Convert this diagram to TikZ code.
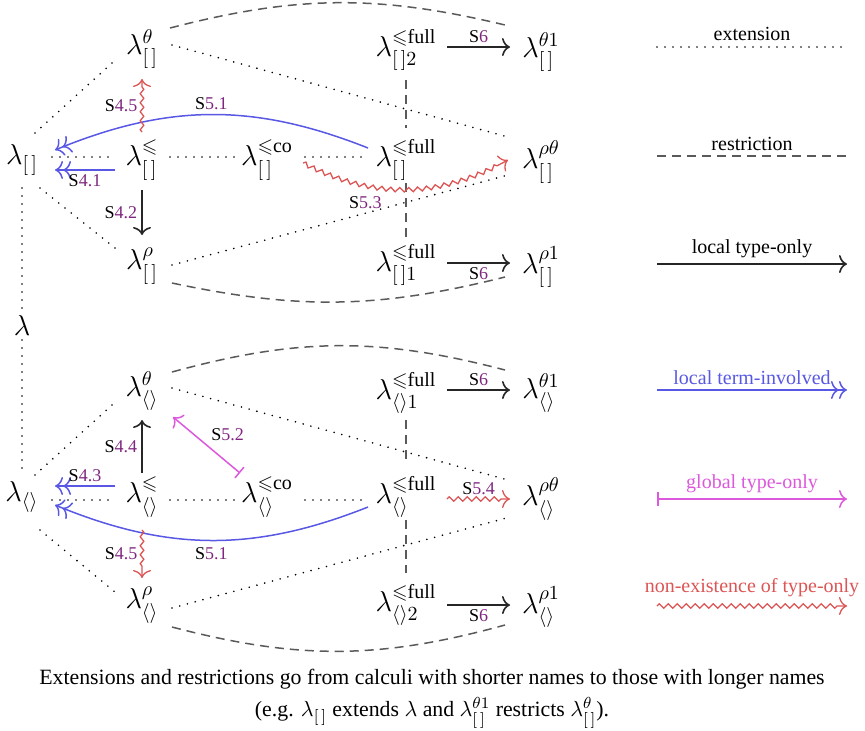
\documentclass[tikz,border=0pt]{standalone}
\usepackage{amsmath,amssymb}
\usepackage{fontspec}
\setmainfont{Liberation Serif}
\usetikzlibrary{arrows.meta,decorations.pathmorphing,calc}
\definecolor{cblue}{RGB}{88,88,228}
\definecolor{cmag}{RGB}{220,88,220}
\definecolor{cred}{RGB}{220,84,84}
\definecolor{cpur}{RGB}{128,38,128}
\definecolor{cgray}{RGB}{90,90,90}
\newcommand{\slab}[1]{S\textcolor{cpur}{#1}}
\newcommand{\bx}{[\,]}
\newcommand{\ax}{\langle\rangle}
\begin{document}
\begin{tikzpicture}[x=0.5pt,y=-0.5pt,
  cal/.style={font=\Large, inner sep=0pt},
  lab/.style={font=\small, inner sep=2pt},
  legt/.style={font=\normalsize, inner sep=2.5pt},
  ext/.style={line width=0.9pt, dash pattern=on 0pt off 4pt, line cap=round},
  restr/.style={draw=cgray, line width=0.75pt, dash pattern=on 4.5pt off 3pt},
  >={Computer Modern Rightarrow[length=4pt,width=9pt]},
  ltype/.style={draw=black!85, line width=0.8pt, ->},
  lterm/.style={draw=cblue, line width=0.75pt, ->>},
  gtype/.style={draw=cmag, line width=0.75pt, {Bar[width=7pt]}->},
  nonex/.style={draw=cred, line width=0.65pt, ->, decorate, decoration={zigzag, segment length=4.5pt, amplitude=1.1pt, post length=4pt}},
]
\useasboundingbox (0,0) rectangle (865,730);
% ---- top block nodes
\node[cal] (thT) at (142,49) {$\lambda^{\theta}_{\bx}$};
\node[cal] (f2T) at (406,50) {$\lambda^{\leqslant\mathrm{full}}_{\bx 2}$};
\node[cal] (th1T) at (541,52) {$\lambda^{\theta 1}_{\bx}$};
\node[cal] (lT) at (22,160) {$\lambda_{\bx}$};
\node[cal] (leT) at (142,160) {$\lambda^{\leqslant}_{\bx}$};
\node[cal] (coT) at (267,160) {$\lambda^{\leqslant\mathrm{co}}_{\bx}$};
\node[cal] (fT) at (406,160) {$\lambda^{\leqslant\mathrm{full}}_{\bx}$};
\node[cal] (rtT) at (541,162) {$\lambda^{\rho\theta}_{\bx}$};
\node[cal] (rT) at (142,266) {$\lambda^{\rho}_{\bx}$};
\node[cal] (f1T) at (406,265) {$\lambda^{\leqslant\mathrm{full}}_{\bx 1}$};
\node[cal] (r1T) at (541,267) {$\lambda^{\rho 1}_{\bx}$};
\node[cal] (lam) at (22,325) {$\lambda$};
% ---- bottom block nodes
\node[cal] (thB) at (142,391) {$\lambda^{\theta}_{\ax}$};
\node[cal] (f1B) at (406,393) {$\lambda^{\leqslant\mathrm{full}}_{\ax 1}$};
\node[cal] (th1B) at (541,393) {$\lambda^{\theta 1}_{\ax}$};
\node[cal] (lB) at (22,497) {$\lambda_{\ax}$};
\node[cal] (leB) at (142,497) {$\lambda^{\leqslant}_{\ax}$};
\node[cal] (coB) at (267,497) {$\lambda^{\leqslant\mathrm{co}}_{\ax}$};
\node[cal] (fB) at (406,497) {$\lambda^{\leqslant\mathrm{full}}_{\ax}$};
\node[cal] (rtB) at (541,499) {$\lambda^{\rho\theta}_{\ax}$};
\node[cal] (rB) at (142,605) {$\lambda^{\rho}_{\ax}$};
\node[cal] (f2B) at (406,605) {$\lambda^{\leqslant\mathrm{full}}_{\ax 2}$};
\node[cal] (r1B) at (541,607) {$\lambda^{\rho 1}_{\ax}$};
% ---- top block edges
\draw[ext] ($(thT)+(-30,14)$) -- ($(lT)+(13,-27)$);
\draw[ext] ($(lT)+(18,28)$) -- ($(rT)+(-27,-18)$);
\draw[ext] ($(lT)+(30,-3)$) -- ($(leT)+(-27,-3)$);
\draw[ext] ($(leT)+(28,-3)$) -- ($(coT)+(-32,-3)$);
\draw[ext] ($(coT)+(38,-3)$) -- ($(fT)+(-38,-3)$);
\draw[ext] ($(thT)+(30,-4)$) -- ($(rtT)+(-33,-25)$);
\draw[ext] ($(rT)+(30,-1)$) -- ($(rtT)+(-33,13)$);
\draw[ext] ($(lT)+(0,28)$) -- ($(lam)+(0,-15)$);
\draw[restr] ($(thT)+(28,-21)$) to[bend left=14] ($(th1T)+(-36,-27)$);
\draw[restr] ($(rT)+(30,17)$) to[bend right=13] ($(r1T)+(-36,10)$);
\draw[restr] ($(f2T)+(0,30)$) -- ($(fT)+(0,-32)$);
\draw[restr] ($(fT)+(0,23)$) -- ($(f1T)+(0,-27)$);
\draw[ltype] ($(f2T)+(41,-3)$) -- node[lab,above]{\slab{6}} ($(th1T)+(-31,-5)$);
\draw[ltype] ($(f1T)+(41,-2)$) -- node[lab,below]{\slab{6}} ($(r1T)+(-31,-4)$);
\draw[lterm] ($(fT)+(-38,-12)$) to[bend right=22] node[lab,above]{\slab{5.1}} ($(lT)+(33,-10)$);
\draw[lterm] ($(leT)+(-27,10)$) -- node[lab,below]{\slab{4.1}} ($(lT)+(33,10)$);
\draw[ltype] ($(leT)+(0,30)$) -- node[lab,left]{\slab{4.2}} ($(rT)+(0,-31)$);
\draw[nonex, decoration={amplitude=0.9pt}] ($(leT)+(0,-28)$) -- node[lab,left]{\slab{4.5}} ($(thT)+(0,30)$);
\draw[nonex] ($(coT)+(36,3)$) to[bend right=28] node[lab,below=3pt,pos=0.3]{\slab{5.3}} ($(rtT)+(-33,-2)$);
% ---- bottom block edges
\draw[ext] ($(thB)+(-30,14)$) -- ($(lB)+(13,-22)$);
\draw[ext] ($(lB)+(18,33)$) -- ($(rB)+(-27,-13)$);
\draw[ext] ($(lam)+(0,15)$) -- ($(lB)+(0,-27)$);
\draw[ext] ($(lB)+(30,3)$) -- ($(leB)+(-27,3)$);
\draw[ext] ($(leB)+(28,3)$) -- ($(coB)+(-32,3)$);
\draw[ext] ($(coB)+(38,3)$) -- ($(fB)+(-38,3)$);
\draw[ext] ($(thB)+(30,-3)$) -- ($(rtB)+(-33,-19)$);
\draw[ext] ($(rB)+(30,3)$) -- ($(rtB)+(-31,18)$);
\draw[restr] ($(thB)+(30,-19)$) to[bend left=15] ($(th1B)+(-36,-23)$);
\draw[restr] ($(rB)+(30,22)$) to[bend right=15] ($(r1B)+(-36,18)$);
\draw[restr] ($(f1B)+(0,27)$) -- ($(fB)+(0,-32)$);
\draw[restr] ($(fB)+(0,23)$) -- ($(f2B)+(0,-32)$);
\draw[ltype] ($(f1B)+(41,-3)$) -- node[lab,above]{\slab{6}} ($(th1B)+(-31,-3)$);
\draw[ltype] ($(f2B)+(41,0)$) -- node[lab,below]{\slab{6}} ($(r1B)+(-31,-2)$);
\draw[nonex] ($(fB)+(41,2)$) -- node[lab,above]{\slab{5.4}} ($(rtB)+(-31,0)$);
\draw[lterm] ($(leB)+(-27,-11)$) -- node[lab,above]{\slab{4.3}} ($(lB)+(33,-11)$);
\draw[lterm] ($(fB)+(-38,10)$) to[bend left=22] node[lab,below=1pt,pos=0.5]{\slab{5.1}} ($(lB)+(33,8)$);
\draw[ltype] ($(leB)+(0,-24)$) -- node[lab,left]{\slab{4.4}} ($(thB)+(0,29)$);
\draw[nonex, decoration={amplitude=0.9pt}] ($(leB)+(0,33)$) -- node[lab,left]{\slab{4.5}} ($(rB)+(0,-27)$);
\draw[gtype] ($(coB)+(-27,-24)$) -- node[lab,above right]{\slab{5.2}} ($(thB)+(31,26)$);
% ---- legend
\coordinate (a1) at (657,47);  \coordinate (a2) at (847,47);
\coordinate (b1) at (657,156); \coordinate (b2) at (847,156);
\coordinate (c1) at (657,264); \coordinate (c2) at (847,264);
\coordinate (d1) at (657,390); \coordinate (d2) at (847,390);
\coordinate (e1) at (657,499); \coordinate (e2) at (847,499);
\coordinate (g1) at (657,606); \coordinate (g2) at (847,606);
\draw[ext] (a1) -- node[legt,above]{extension} (a2);
\draw[restr] (b1) -- node[legt,above,text=black]{restriction} (b2);
\draw[ltype] (c1) -- node[legt,above,text=black]{local type-only} (c2);
\draw[lterm] (d1) -- node[legt,above,text=cblue]{local term-involved} (d2);
\draw[gtype] (e1) -- node[legt,above,text=cmag]{global type-only} (e2);
\draw[nonex] (g1) -- node[legt,above,text=cred,yshift=2pt]{non-existence of type-only} (g2);
% ---- caption
\node[align=center, font=\fontsize{10.9}{13}\selectfont] (cap) at (432,699) {Extensions and restrictions go from calculi with shorter names to those with longer names\\[3pt](e.g. $\lambda_{\bx}$ extends $\lambda$ and $\lambda^{\theta 1}_{\bx}$ restricts $\lambda^{\theta}_{\bx}$).};
\end{tikzpicture}
\end{document}
